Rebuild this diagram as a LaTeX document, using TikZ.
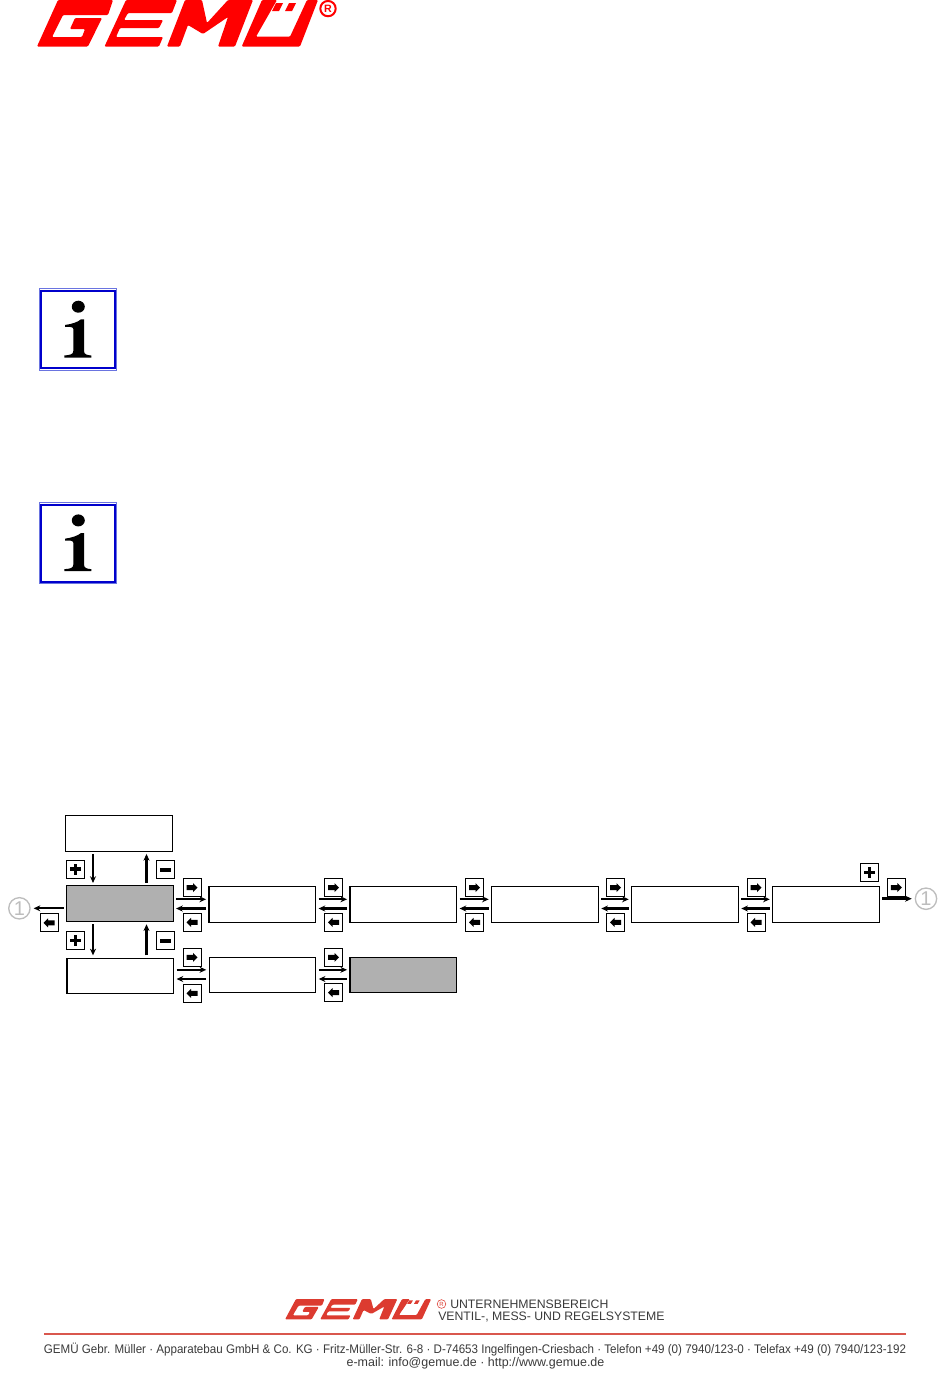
\documentclass[tikz,border=0pt]{standalone}
\usepackage{xcolor}
\usepackage{fontspec}
\setmainfont{Liberation Sans}
\newfontfamily\footnarrow[FakeStretch=.93]{Liberation Sans}
\usetikzlibrary{arrows.meta}
\definecolor{GMRed}{HTML}{FF0000}
\definecolor{GMFoot}{HTML}{DC3B30}
\definecolor{GMRule}{HTML}{D9574E}
\definecolor{GMBlue}{HTML}{0000CC}
\definecolor{GMThin}{HTML}{6A74E0}
\definecolor{GMGray}{HTML}{B0B0B0}
\definecolor{GMRing}{HTML}{BDBDBD}
\definecolor{GMText}{HTML}{3A3A3A}
\tikzset{
  lcdbox/.style={draw,line width=.8pt,fill=white,minimum width=80pt,minimum height=26.6pt,inner sep=0pt,outer sep=0pt},
  lcdgray/.style={lcdbox,fill=GMGray},
  keybox/.style={draw,line width=.75pt,fill=white,minimum size=13.5pt,inner sep=0pt,outer sep=0pt},
  pics/keyright/.style={code={\node[keybox] (-box) at (0,0) {};
    \fill (-5.5,-2.5) -- (1,-2.5) -- (1,-4.5) -- (5.5,0) -- (1,4.5) -- (1,2.5) -- (-5.5,2.5) -- cycle;}},
  pics/keyleft/.style={code={\node[keybox] (-box) at (0,0) {};
    \fill (5.5,-2.5) -- (-1,-2.5) -- (-1,-4.5) -- (-5.5,0) -- (-1,4.5) -- (-1,2.5) -- (5.5,2.5) -- cycle;}},
  pics/keyplus/.style={code={\node[keybox] (-box) at (0,0) {};
    \fill (-5.5,-1.7) rectangle (5.5,1.7);\fill (-1.7,-5.5) rectangle (1.7,5.5);}},
  pics/keyminus/.style={code={\node[keybox] (-box) at (0,0) {};
    \fill (-5.5,-2) rectangle (5.5,2);}},
  flow/.style={line width=1.6pt,-{Stealth[length=5pt,width=4.5pt]},shorten <=2.2pt,shorten >=2.2pt},
  flowbig/.style={flow,line width=2pt},
  ringmark/.style={circle,draw=GMRing,line width=1pt,minimum size=16pt,inner sep=0pt,text=GMRing,font=\fontsize{15pt}{15pt}\selectfont},
  regmark/.style={circle,draw,inner sep=0pt,minimum size=#1},
  footline/.style={text=GMText,inner sep=0pt,font=\fontsize{9.35pt}{11pt}\selectfont},
  headline/.style={text=GMText,inner sep=0pt,font=\fontsize{9.2pt}{11pt}\selectfont},
  pics/logomark/.style={code={
    \fill[#1,rounded corners=.8pt] (37,46.5) -- (58,0) -- (113,0) -- (108,15) -- (63,15) -- (52,37) -- (82,37) -- (85,29) -- (70,29) -- (75,18) -- (102,18) -- (88,46.5) -- cycle;
    \fill[#1,rounded corners=.8pt] (104.5,46.5) -- (126,0) -- (177,0) -- (172,13) -- (128,13) -- (124,20) -- (163,20) -- (159,28) -- (120,28) -- (116,37) -- (163,37) -- (159,46.5) -- cycle;
    \fill[#1,rounded corners=.8pt] (167,46.5) -- (185,0) -- (202,0) -- (207,23) -- (228,0) -- (253,0) -- (235,46.5) -- (218,46.5) -- (228,17) -- (203,34) -- (188,25) -- (180,46.5) -- cycle;
    \fill[#1,rounded corners=.8pt] (241.7,46.5) -- (262,0) -- (277,0) -- (256,36.7) -- (290,36.7) -- (307,0) -- (318,0) -- (300,46.5) -- cycle;
    \fill[#1] (272,11) -- (276,3) -- (283,3) -- (279,11) -- cycle;
    \fill[#1] (285,11) -- (289,3) -- (296,3) -- (292,11) -- cycle;
  }},
  pics/infosign/.style={code={
    \draw[GMThin,line width=.5pt] (39,288.7) rectangle (116,370);
    \draw[GMBlue,line width=1.5pt] (40.7,290.8) rectangle (115.2,368.3);
    \fill (78.3,306.7) ellipse (6.5 and 6);
    \fill (84,319.3) -- (84,351) .. controls (84,354.5) and (87,355) .. (91.3,355.5) -- (91.3,357.5) -- (64.3,357.5) -- (64.3,355.5) .. controls (70,355) and (73.3,354.5) .. (73.3,351) -- (73.3,329) .. controls (73.3,327) and (70,326.5) .. (65,327) -- (65,325) .. controls (72,324) and (78,322) .. (81,319.3) -- cycle;
  }}
}

\begin{document}
\begin{tikzpicture}[x=.75pt,y=-.75pt]
\path[use as bounding box] (0,0) rectangle (950,1397);
% header logo
\pic at (0,0) {logomark=GMRed};
\node[regmark=11.5pt,text=GMRed,draw=GMRed,line width=1.5pt,font=\bfseries\fontsize{8pt}{8pt}\selectfont] (regtop) at (328,8.6) {R};
% note signs
\pic at (0,0) {infosign};
\pic at (0,213.7) {infosign};
% displays
\node[lcdbox] (up) at (119,833.3) {};
\node[lcdgray] (g) at (119.8,903.6) {};
\node[lcdbox] (lo) at (120.3,976) {};
\node[lcdbox] (r1) at (262.3,904.5) {};
\node[lcdbox] (r2) at (403.3,904.5) {};
\node[lcdbox] (r3) at (545,904.5) {};
\node[lcdbox] (r4) at (685,904.5) {};
\node[lcdbox] (r5) at (826,904.5) {};
\node[lcdbox] (s1) at (262.5,975) {};
\node[lcdgray] (s2) at (403.3,975) {};
% numbered marks
\node[ringmark] (ringl) at (19.4,908.3) {1};
\node[ringmark] (ringr) at (926,898.7) {1};
% up and down
\coordinate (dn) at (93,0);
\coordinate (un) at (146.5,0);
\draw[flow] (up.south -| dn) -- (g.north -| dn);
\draw[flow] (g.north -| un) -- (up.south -| un);
\draw[flow] (g.south -| dn) -- (lo.north -| dn);
\draw[flow] (lo.north -| un) -- (g.south -| un);
% along the rows
\foreach \a/\b in {g/r1,r1/r2,r2/r3,r3/r4,r4/r5,lo/s1,s1/s2}{
  \draw[flow] ([yshift=3.9pt]\b.west -| \a.east) -- ([yshift=3.9pt]\b.west);
  \draw[flow] ([yshift=-3pt]\b.west) -- ([yshift=-3pt]\b.west -| \a.east);
}
\draw[flow] (ringl.east -| g.west) -- (ringl.east);
\draw[flowbig] (ringr.west -| r5.east) -- (ringr.west);
% keys
\pic (kp1) at (75.5,869) {keyplus};
\pic (km1) at (165.5,869.5) {keyminus};
\pic (kp2) at (75.5,940.5) {keyplus};
\pic (km2) at (165.5,940.5) {keyminus};
\pic (kl0) at (49,922.8) {keyleft};
\foreach \i/\x in {1/192,2/333.5,3/474.5,4/615.5,5/756}{
  \pic (kr\i) at (\x,887.5) {keyright};
  \pic (kl\i) at (\x,922.3) {keyleft};
}
\pic (ks1) at (192,957.3) {keyright};
\pic (kt1) at (192,993.3) {keyleft};
\pic (ks2) at (333.5,957.3) {keyright};
\pic (kt2) at (333.5,992.5) {keyleft};
\pic (kp3) at (869.3,872.5) {keyplus};
\pic (kr6) at (896.3,887.5) {keyright};
% footer
\pic[xscale=.52,yscale=.44] at (265.8,1299) {logomark=GMFoot};
\node[regmark=6.5pt,text=GMFoot,draw=GMFoot,line width=.4pt,font=\fontsize{4.5pt}{4.5pt}\selectfont] (regfoot) at (441.5,1304) {R};
\node[headline,anchor=west] (unit) at (450,1304.5) {UNTERNEHMENSBEREICH};
\node[headline,anchor=west] (trade) at (438,1317.3) {VENTIL-, MESS- UND REGELSYSTEME};
\draw[GMRule,line width=1.3pt] (44,1334.3) -- (906,1334.3);
\node[footline,anchor=center] (addr) at (475,1349.5) {\footnarrow GEMÜ Gebr. Müller · Apparatebau GmbH \& Co. KG · Fritz-Müller-Str. 6-8 · D-74653 Ingelfingen-Criesbach · Telefon +49 (0) 7940/123-0 · Telefax +49 (0) 7940/123-192};
\node[footline,anchor=center] (mail) at (475.5,1363.3) {e-mail: info@gemue.de · http://www.gemue.de};
\end{tikzpicture}
\end{document}
